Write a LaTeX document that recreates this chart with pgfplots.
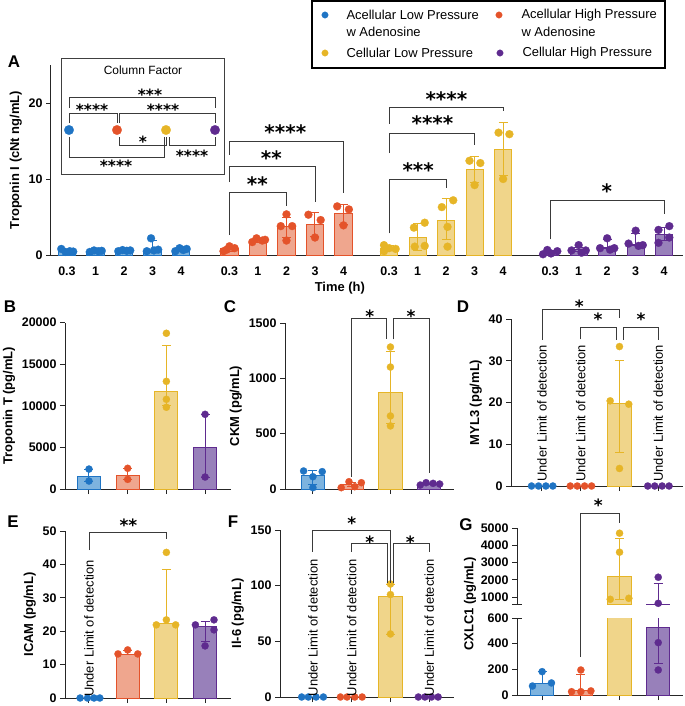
\documentclass[border=0pt]{standalone}
\usepackage{pgfplots}
\pgfplotsset{compat=1.18}
\usepackage{fontspec}
\setmainfont{Liberation Sans}
\newfontfamily\starfont{DejaVu Sans}

\definecolor{cB}{HTML}{1F74C4}
\definecolor{fB}{HTML}{7DB3DF}
\definecolor{cO}{HTML}{E4532A}
\definecolor{fO}{HTML}{EFA68E}
\definecolor{cY}{HTML}{E6B527}
\definecolor{fY}{HTML}{F0D58A}
\definecolor{cP}{HTML}{5F2B8F}
\definecolor{fP}{HTML}{9880BA}
\definecolor{brk}{HTML}{3A3A3A}

\newcommand\tickfont{\bfseries\fontsize{12.5}{12.5}\selectfont}
\newcommand\labfont{\bfseries\fontsize{13}{13}\selectfont}
\newcommand\lgfont{\fontsize{13}{13}\selectfont}

\pgfplotsset{
  pan/.style={scale only axis, anchor=south west, clip mode=individual,
    axis x line*=bottom, axis y line*=left,
    axis line style={-, line width=1bp, black!85},
    tick style={line width=1bp, black!85},
    tick align=outside, major tick length=5bp,
    tick label style={font=\tickfont},
    ylabel style={font=\labfont},
    xlabel style={font=\labfont},
    scaled y ticks=false,
    /pgf/number format/assume math mode=true,
    /pgf/number format/1000 sep={},
    ymin=0},
  cat/.style={xtick={0,1,2,3}, xticklabels={}, width=#1},
  bars/.style 2 args={ybar, bar width=0.6, bar shift=0pt, draw=#1, fill=#2, line width=1bp,
    error bars/y dir=both, error bars/y explicit,
    error bars/error bar style={draw=#1, line width=1bp},
    error bars/error mark options={rotate=90, draw=#1, mark size=4.5bp, line width=1bp}},
  pts/.style={only marks, mark=*, mark size=3.6bp, mark options={draw=#1, fill=#1, line width=0.2bp}},
  box/.style={scale only axis, anchor=south west, xtick=\empty, ytick=\empty, clip=false},
}
\tikzset{
  br/.style={draw=brk, line width=0.9bp},
  stA/.style={font=\starfont\bfseries\fontsize{20}{20}\selectfont, anchor=base, inner sep=0pt, yshift=-11.5bp},
  stS/.style={font=\starfont\bfseries\fontsize{17}{17}\selectfont, anchor=base, inner sep=0pt, yshift=-9.8bp},
  stI/.style={font=\starfont\bfseries\fontsize{15.5}{15.5}\selectfont, anchor=base, inner sep=0pt, yshift=-8.9bp},
  lett/.style={font=\bfseries\fontsize{17}{17}\selectfont, inner sep=0pt},
  uld/.style={rotate=90, anchor=west, inner sep=0pt, font=\fontsize{13}{13}\selectfont},
}

\begin{document}
\begin{tikzpicture}
\useasboundingbox (0,0) rectangle (685bp,-706bp);

% ---------------- legend ----------------
\begin{axis}[box, at={(312bp,-68bp)}, width=353bp, height=67bp,
  xmin=312, xmax=665, ymin=-68, ymax=-1, axis line style={line width=1.8bp, black}]
\addplot[pts=cB, mark size=3.3bp] coordinates {(325,-15)};
\addplot[pts=cO, mark size=3.3bp] coordinates {(499,-15)};
\addplot[pts=cY, mark size=3.3bp] coordinates {(325,-53)};
\addplot[pts=cP, mark size=3.3bp] coordinates {(500,-53)};
\node[anchor=west, font=\lgfont] at (axis cs:343,-15) {Acellular Low Pressure};
\node[anchor=west, font=\lgfont] at (axis cs:343,-32) {w Adenosine};
\node[anchor=west, font=\lgfont] at (axis cs:518,-15) {Acellular High Pressure};
\node[anchor=west, font=\lgfont] at (axis cs:518,-32) {w Adenosine};
\node[anchor=west, font=\lgfont] at (axis cs:343,-53) {Cellular Low Pressure};
\node[anchor=west, font=\lgfont] at (axis cs:519,-53) {Cellular High Pressure};
\end{axis}

% ---------------- A ----------------
\begin{axis}[pan, at={(51bp,-255bp)}, width=632bp, height=190bp,
  xmin=-0.56, xmax=21.61, ymax=25, ytick={0,10,20},
  xtick=\empty,
  extra x ticks={0,1,2,3,4,5.7,6.7,7.7,8.7,9.7,11.3,12.3,13.3,14.3,15.3,16.95,17.95,18.95,19.95,20.95},
  extra x tick labels={0.3,1,2,3,4,0.3,1,2,3,4,0.3,1,2,3,4,0.3,1,2,3,4},
  extra x tick style={tick style={draw=none}, tick label style={yshift=-3bp}},
  xlabel={Time (h)}, ylabel={Troponin I (cNt ng/mL)},
  xlabel style={at={(axis description cs:0.457,0)}, anchor=north, yshift=-24bp},
  pts/.append style={mark size=4bp},
  error bars/error mark options={rotate=90, mark size=4bp}]
\addplot[bars={cB}{fB}] coordinates {(0,0.5) += (0,0.2) -= (0,0.2) (1,0.5) += (0,0.1) -= (0,0.1)
  (2,0.5) += (0,0.1) -= (0,0.1) (3,0.65) += (0,1.25) -= (0,0.3) (4,0.6) += (0,0.2) -= (0,0.15)};
\addplot[bars={cO}{fO}] coordinates {(5.7,0.8) += (0,0.35) -= (0,0.35) (6.7,1.9) += (0,0.3) -= (0,0.3)
  (7.7,3.7) += (0,1.2) -= (0,1.4) (8.7,4.05) += (0,1.6) -= (0,1.6) (9.7,5.4) += (0,1.3) -= (0,1.4)};
\addplot[bars={cY}{fY}] coordinates {(11.3,0.9) += (0,0.3) -= (0,0.3) (12.3,2.3) += (0,1.9) -= (0,1.7)
  (13.3,4.6) += (0,2.8) -= (0,2.5) (14.3,11.2) += (0,1.8) -= (0,1.7) (15.3,13.9) += (0,3.5) -= (0,3.4)};
\addplot[bars={cP}{fP}] coordinates {(16.95,0.4) += (0,0.2) -= (0,0.2) (17.95,0.7) += (0,0.3) -= (0,0.3)
  (18.95,1.0) += (0,1.0) -= (0,0.2) (19.95,1.4) += (0,1.4) -= (0,0.2) (20.95,2.75) += (0,0.85) -= (0,0.8)};
\addplot[pts=cB] coordinates {(-0.2,0.8) (-0.05,0.4) (0.1,0.5) (0.22,0.45)
  (0.8,0.4) (0.95,0.6) (1.1,0.5) (1.22,0.55) (1.8,0.5) (1.95,0.65) (2.1,0.55) (2.22,0.6)
  (2.8,0.5) (2.95,2.2) (3.05,0.6) (3.2,0.7) (3.8,0.5) (3.95,0.9) (4.08,0.65) (4.2,0.8)};
\addplot[pts=cO] coordinates {(5.49,0.5) (5.7,1.15) (5.88,0.9) (5.6,0.7)
  (6.5,1.7) (6.65,2.2) (6.85,1.9) (6.95,2.0) (7.7,5.35) (7.5,3.8) (7.9,3.8) (7.7,1.9)
  (8.47,5.3) (8.9,4.6) (8.7,2.3) (9.48,6.4) (9.89,6.0) (9.7,3.9)};
\addplot[pts=cY] coordinates {(11.12,1.3) (11.3,0.9) (11.53,0.8) (11.12,0.5)
  (12.17,3.6) (12.55,4.25) (12.2,1.1) (12.55,1.2) (13.55,7.2) (13.15,6.3) (13.35,3.7) (13.35,1.1)
  (14.12,12.4) (14.5,12.1) (14.3,9.2) (15.14,16.1) (15.52,15.9) (15.3,10.0)};
\addplot[pts=cP] coordinates {(16.7,0.1) (16.85,0.66) (16.98,0.2) (17.2,0.5)
  (17.7,0.6) (17.95,1.3) (18.05,0.3) (18.2,0.6) (18.7,0.9) (18.95,2.2) (19.05,0.7) (19.2,0.9)
  (19.7,1.5) (19.95,3.2) (20.05,1.2) (20.2,1.3) (20.75,3.3) (21.13,3.8) (21.13,2.3) (20.75,1.6)};
% significance
\draw[br] (axis cs:5.7,2.6) |- (axis cs:7.7,8.2) -- (axis cs:7.7,6.45);
\draw[br] (axis cs:5.7,9.6) |- (axis cs:8.7,11.6) -- (axis cs:8.7,7.0);
\draw[br] (axis cs:5.7,13.2) |- (axis cs:9.7,14.9) -- (axis cs:9.7,8.1);
\node[stA] at (axis cs:6.68,9.9) {**};
\node[stA] at (axis cs:7.17,13.3) {**};
\node[stA] at (axis cs:7.66,16.7) {****};
\draw[br] (axis cs:11.3,2.85) |- (axis cs:13.3,9.9) -- (axis cs:13.3,8.8);
\draw[br] (axis cs:11.3,13.4) |- (axis cs:14.3,16.0) -- (axis cs:14.3,14.5);
\draw[br] (axis cs:11.3,17.3) |- (axis cs:15.3,19.4) -- (axis cs:15.3,18.9);
\node[stA] at (axis cs:12.32,11.75) {***};
\node[stA] at (axis cs:12.82,17.85) {****};
\node[stA] at (axis cs:13.31,21.1) {****};
\draw[br] (axis cs:16.95,2.06) |- (axis cs:20.95,7.2) -- (axis cs:20.95,5.4);
\node[stA] at (axis cs:18.94,9.0) {*};
\end{axis}

% ---------------- A inset ----------------
\begin{axis}[box, at={(61bp,-174bp)}, width=163bp, height=116bp,
  xmin=61, xmax=224, ymin=-174, ymax=-58, axis line style={line width=1bp, black!75}]
\addplot[pts=cB, mark size=4.8bp] coordinates {(69,-130)};
\addplot[pts=cO, mark size=4.8bp] coordinates {(117,-130)};
\addplot[pts=cY, mark size=4.8bp] coordinates {(166,-130)};
\addplot[pts=cP, mark size=4.8bp] coordinates {(215,-130)};
\node[font=\fontsize{12}{12}\selectfont] at (axis cs:143,-70) {Column Factor};
\draw[br] (axis cs:69,-108) |- (axis cs:215,-97) -- (axis cs:215,-108);
\node[stI] at (axis cs:150,-92) {***};
\draw[br] (axis cs:69,-123) |- (axis cs:117,-113) -- (axis cs:117,-123);
\node[stI] at (axis cs:92,-107) {****};
\draw[br] (axis cs:119,-123) |- (axis cs:215,-113) -- (axis cs:215,-123);
\node[stI] at (axis cs:163,-107) {****};
\draw[br] (axis cs:119,-137) |- (axis cs:166,-145) -- (axis cs:166,-137);
\node[stI] at (axis cs:143,-139) {*};
\draw[br] (axis cs:169,-137) |- (axis cs:215,-145) -- (axis cs:215,-137);
\node[stI] at (axis cs:192,-153) {****};
\draw[br] (axis cs:69,-137) |- (axis cs:164,-157) -- (axis cs:164,-137);
\node[stI] at (axis cs:116,-163) {****};
\end{axis}

% ---------------- B ----------------
\begin{axis}[pan, cat=166bp, at={(65bp,-489bp)}, height=166.3bp, xmin=-0.62, xmax=3.67,
  ymax=20000, ytick={0,5000,10000,15000,20000}, ylabel={Troponin T (pg/mL)}]
\addplot[bars={cB}{fB}] coordinates {(0,1560) += (0,840) -= (0,600)};
\addplot[bars={cO}{fO}] coordinates {(1,1640) += (0,850) -= (0,480)};
\addplot[bars={cY}{fY}] coordinates {(2,11700) += (0,5550) -= (0,1650)};
\addplot[bars={cP}{fP}] coordinates {(3,5050) += (0,3930) -= (0,3610)};
\addplot[pts=cB] coordinates {(0,2400) (0,960)};
\addplot[pts=cO] coordinates {(1,2490) (1,1160)};
\addplot[pts=cY] coordinates {(2,18730) (2,12950) (2,10790) (2,9830)};
\addplot[pts=cP] coordinates {(3,8980) (3,1440)};
\end{axis}

% ---------------- C ----------------
\begin{axis}[pan, cat=169bp, at={(285bp,-489bp)}, height=166bp, xmin=-0.72, xmax=3.64,
  ymax=1500, ytick={0,500,1000,1500}, ylabel={CKM (pg/mL)}]
\addplot[bars={cB}{fB}] coordinates {(0,126) += (0,39) -= (0,86)};
\addplot[bars={cO}{fO}] coordinates {(1,40) += (0,20) -= (0,20)};
\addplot[bars={cY}{fY}] coordinates {(2,876) += (0,362) -= (0,280)};
\addplot[bars={cP}{fP}] coordinates {(3,45) += (0,8) -= (0,8)};
\addplot[pts=cB] coordinates {(-0.24,163) (0,111) (0.24,157) (0,12)};
\addplot[pts=cO] coordinates {(0.73,12) (0.93,66) (1.08,21) (1.25,57)};
\addplot[pts=cY] coordinates {(2,1283) (2,1102) (2,660) (2,570)};
\addplot[pts=cP] coordinates {(2.77,36) (2.92,57) (3.1,51) (3.27,45)};
\draw[br] (axis cs:1,111) |- (axis cs:1.91,1542) -- (axis cs:1.91,1352);
\draw[br] (axis cs:2.09,1352) |- (axis cs:3,1542) -- (axis cs:3,142);
\node[stS] at (axis cs:1.47,1590) {*};
\node[stS] at (axis cs:2.53,1590) {*};
\end{axis}

% ---------------- D ----------------
\begin{axis}[pan, cat=172bp, at={(511bp,-486bp)}, height=167bp, xmin=-0.80, xmax=3.64,
  ymax=40, ytick={0,10,20,30,40}, ylabel={MYL3 (pg/mL)}]
\addplot[bars={cY}{fY}] coordinates {(2,19.8) += (0,10.2) -= (0,11.7)};
\addplot[pts=cB] coordinates {(-0.27,0) (-0.09,0) (0.1,0) (0.28,0)};
\addplot[pts=cO] coordinates {(0.73,0) (0.91,0) (1.1,0) (1.28,0)};
\addplot[pts=cY] coordinates {(2,33.4) (1.76,20.4) (2.24,19.6) (2,4.2)};
\addplot[pts=cP] coordinates {(2.73,0) (2.91,0) (3.1,0) (3.28,0)};
\node[uld] at (axis cs:0,1) {Under Limit of detection};
\node[uld] at (axis cs:1,1) {Under Limit of detection};
\node[uld] at (axis cs:3,1) {Under Limit of detection};
\draw[br] (axis cs:0,35) |- (axis cs:2,42.3) -- (axis cs:2,40.2);
\draw[br] (axis cs:1,35.1) |- (axis cs:1.92,38) -- (axis cs:1.92,35);
\draw[br] (axis cs:2.1,35) |- (axis cs:3,38) -- (axis cs:3,35);
\node[stS] at (axis cs:0.96,43.9) {*};
\node[stS] at (axis cs:1.45,40.7) {*};
\node[stS] at (axis cs:2.56,40.7) {*};
\end{axis}

% ---------------- E ----------------
\begin{axis}[pan, cat=166bp, at={(65bp,-698bp)}, height=167bp, xmin=-0.62, xmax=3.67,
  ymax=50, ytick={0,10,20,30,40,50}, ylabel={ICAM (pg/mL)}]
\addplot[bars={cO}{fO}] coordinates {(1,12.9) += (0,1.3) -= (0,0)};
\addplot[bars={cY}{fY}] coordinates {(2,22.2) += (0,16.3) -= (0,0)};
\addplot[bars={cP}{fP}] coordinates {(3,21.4) += (0,1.5) -= (0,4.5)};
\addplot[pts=cB] coordinates {(-0.23,0) (-0.04,0) (0.13,0) (0.28,0)};
\addplot[pts=cO] coordinates {(0.75,13.2) (1,14.4) (1.26,13.2)};
\addplot[pts=cY] coordinates {(2,43.6) (2,23.4) (1.74,21.9) (2.24,21.9)};
\addplot[pts=cP] coordinates {(2.75,21.9) (3.23,23.4) (3.23,20.4) (3,15.6)};
\node[uld] at (axis cs:0,0.3) {Under Limit of detection};
\draw[br] (axis cs:0,44.3) |- (axis cs:2,49.6) -- (axis cs:2,47.5);
\node[stS] at (axis cs:1.02,52.8) {**};
\end{axis}

% ---------------- F ----------------
\begin{axis}[pan, cat=174bp, at={(280bp,-697bp)}, height=167bp, xmin=-0.85, xmax=3.64,
  ymax=150, ytick={0,50,100,150}, ylabel={Il-6 (pg/mL)}]
\addplot[bars={cY}{fY}] coordinates {(2,90) += (0,11.2) -= (0,33.7)};
\addplot[pts=cB] coordinates {(-0.29,0) (-0.12,0) (0.08,0) (0.27,0)};
\addplot[pts=cO] coordinates {(0.71,0) (0.88,0) (1.08,0) (1.27,0)};
\addplot[pts=cY] coordinates {(2,101.5) (2,92) (2,56.6)};
\addplot[pts=cP] coordinates {(2.72,0) (2.89,0) (3.06,0) (3.23,0)};
\node[uld] at (axis cs:0,0.5) {Under Limit of detection};
\node[uld] at (axis cs:1,0.5) {Under Limit of detection};
\node[uld] at (axis cs:3,0.5) {Under Limit of detection};
\draw[br] (axis cs:0,130.3) |- (axis cs:1.99,150) -- (axis cs:1.99,102.4);
\draw[br] (axis cs:1,130.3) |- (axis cs:1.93,138) -- (axis cs:1.93,102.4);
\draw[br] (axis cs:2.08,102.4) |- (axis cs:3,138) -- (axis cs:3,130.3);
\node[stS] at (axis cs:1.0,159.7) {*};
\node[stS] at (axis cs:1.47,142.6) {*};
\node[stS] at (axis cs:2.51,142.6) {*};
\end{axis}

% ---------------- G (broken axis) ----------------
\begin{axis}[pan, cat=166bp, at={(517bp,-695bp)}, height=77bp, xmin=-0.65, xmax=3.64,
  ymax=600, ytick={0,200,400}, extra y ticks={600},
  extra y tick style={tick align=center, major tick length=10bp}]
\addplot[bars={cB}{fB}] coordinates {(0,92) += (0,90) -= (0,0)};
\addplot[bars={cO}{fO}] coordinates {(1,39) += (0,117) -= (0,0)};
\addplot[bars={cY}{fY}] coordinates {(2,2200) += (0,2210) -= (0,1320)};
\addplot[bars={cP}{fP}] coordinates {(3,529) += (0,1231) -= (0,282)};
\addplot[pts=cB] coordinates {(0,182) (-0.25,70) (0.24,94)};
\addplot[pts=cO] coordinates {(1,195) (0.76,26) (1,26) (1.26,32)};
\addplot[pts=cP] coordinates {(3,640) (3,408) (3,195)};
\draw[br] (axis cs:1,296) |- (axis cs:2,1411) -- (axis cs:2,1341);
\node[stS] at (axis cs:1.45,1504) {*};
\end{axis}
\begin{axis}[pan, at={(517bp,-604bp)}, width=166bp, height=76bp, xmin=-0.65, xmax=3.64,
  ymin=600, ymax=5000, axis x line=none, xtick=\empty, ytick={1000,2000,3000,4000,5000},
  extra y ticks={600}, extra y tick labels={},
  extra y tick style={tick align=center, major tick length=10bp}]
\addplot[bars={cY}{fY}] coordinates {(2,2200) += (0,2210) -= (0,1320)};
\addplot[bars={cP}{fP}] coordinates {(3,529) += (0,1231) -= (0,282)};
\addplot[pts=cY] coordinates {(2,4700) (2,3600) (1.76,872) (2.24,930)};
\addplot[pts=cP] coordinates {(3,2150) (3,640)};
\end{axis}
\node[rotate=90, font=\labfont] at (470bp,-604bp) {CXLC1 (pg/mL)};

% ---------------- panel letters ----------------
\node[lett] at (14bp,-62bp) {A};
\node[lett] at (10bp,-307bp) {B};
\node[lett] at (230bp,-307bp) {C};
\node[lett] at (463bp,-307bp) {D};
\node[lett] at (13bp,-522bp) {E};
\node[lett] at (233bp,-522bp) {F};
\node[lett] at (466bp,-525bp) {G};
\end{tikzpicture}
\end{document}
